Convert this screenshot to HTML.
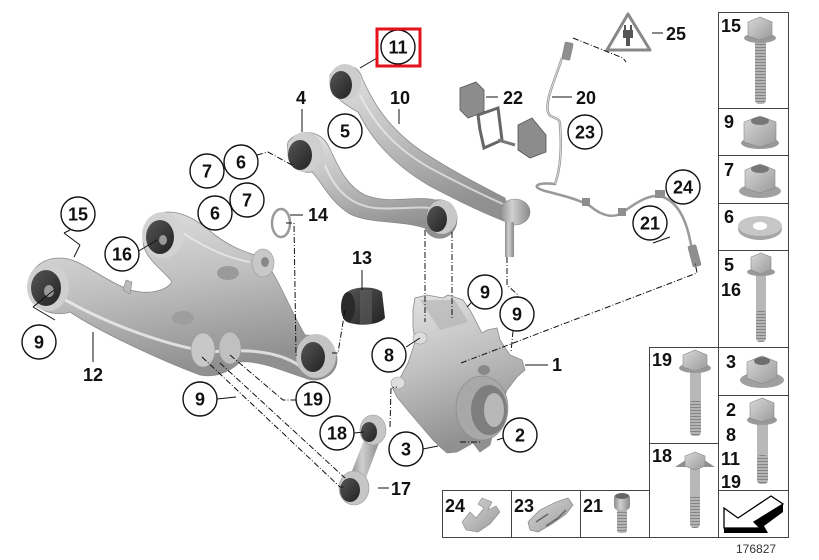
<!DOCTYPE html>
<html><head><meta charset="utf-8"><style>
html,body{margin:0;padding:0;background:#fff;}
svg{display:block;}
text{font-family:"Liberation Sans",Arial,sans-serif;}
</style></head><body>
<svg width="819" height="560" viewBox="0 0 819 560" xmlns="http://www.w3.org/2000/svg">
<defs>
<linearGradient id="g1" x1="0" y1="0" x2="0.3" y2="1">
<stop offset="0" stop-color="#e4e4e4"/><stop offset="0.5" stop-color="#c0c0c0"/><stop offset="1" stop-color="#909090"/></linearGradient>
<linearGradient id="g2" x1="0" y1="0" x2="1" y2="1">
<stop offset="0" stop-color="#d8d8d8"/><stop offset="1" stop-color="#9a9a9a"/></linearGradient>
<linearGradient id="gh" x1="0" y1="0" x2="1" y2="0">
<stop offset="0" stop-color="#8c8c8c"/><stop offset="0.4" stop-color="#d0d0d0"/><stop offset="1" stop-color="#8a8a8a"/></linearGradient>
<linearGradient id="gd" x1="0" y1="0" x2="1" y2="1">
<stop offset="0" stop-color="#555"/><stop offset="1" stop-color="#222"/></linearGradient>
<pattern id="thr" width="12" height="3" patternUnits="userSpaceOnUse">
<rect width="12" height="3" fill="#b4b4b4"/><rect y="2" width="12" height="1" fill="#858585"/></pattern>
</defs>

<!-- ===== Right column boxes ===== -->
<g fill="none" stroke="#444" stroke-width="1">
<rect x="718.5" y="12.5" width="70" height="525"/>
<line x1="718" y1="108.5" x2="788" y2="108.5"/>
<line x1="718" y1="155.5" x2="788" y2="155.5"/>
<line x1="718" y1="203.5" x2="788" y2="203.5"/>
<line x1="718" y1="250.5" x2="788" y2="250.5"/>
<line x1="718" y1="347.5" x2="788" y2="347.5"/>
<line x1="718" y1="395.5" x2="788" y2="395.5"/>
<line x1="718" y1="490.5" x2="788" y2="490.5"/>
<rect x="649.5" y="347.5" width="69" height="190"/>
<line x1="649" y1="443.5" x2="718" y2="443.5"/>
<rect x="442.5" y="490.5" width="207" height="47"/>
<line x1="511.5" y1="490" x2="511.5" y2="538"/>
<line x1="580.5" y1="490" x2="580.5" y2="538"/>
</g>

<g font-weight="bold" font-size="18" fill="#111">
<text x="721" y="32">15</text>
<text x="724" y="128">9</text>
<text x="724" y="176">7</text>
<text x="724" y="223">6</text>
<text x="724" y="271">5</text>
<text x="721" y="296">16</text>
<text x="726" y="368">3</text>
<text x="726" y="416">2</text>
<text x="726" y="441">8</text>
<text x="721" y="465">11</text>
<text x="721" y="488">19</text>
<text x="652" y="366">19</text>
<text x="652" y="462">18</text>
<text x="445" y="512">24</text>
<text x="514" y="512">23</text>
<text x="583" y="512">21</text>
</g>

<!-- bolt 15 -->
<rect x="755" y="38" width="11" height="66" rx="4" fill="url(#thr)"/>
<ellipse cx="760" cy="38" rx="16" ry="5" fill="#9a9a9a"/>
<path d="M748,22 L760,17 L772,22 L772,36 L760,40 L748,36 Z" fill="url(#g2)" stroke="#888" stroke-width="0.6"/>
<!-- nut 9 -->
<ellipse cx="760" cy="143" rx="19" ry="6" fill="#999"/>
<path d="M744,122 L760,116 L776,122 L776,142 L760,147 L744,142 Z" fill="url(#g2)" stroke="#888" stroke-width="0.6"/>
<ellipse cx="760" cy="121" rx="9" ry="4" fill="#777"/>
<!-- nut 7 -->
<ellipse cx="760" cy="191" rx="21" ry="7" fill="#a0a0a0"/>
<path d="M745,170 L760,164 L775,170 L775,188 L760,193 L745,188 Z" fill="url(#g2)" stroke="#888" stroke-width="0.6"/>
<ellipse cx="760" cy="169" rx="9" ry="4" fill="#777"/>
<!-- washer 6 -->
<ellipse cx="760" cy="229" rx="22" ry="11" fill="#a5a5a5"/>
<ellipse cx="760" cy="226" rx="22" ry="10" fill="#c6c6c6"/>
<ellipse cx="760" cy="226" rx="7" ry="4" fill="#fff"/>
<!-- bolt 5/16 -->
<rect x="756" y="272" width="10" height="70" rx="4" fill="#b8b8b8"/>
<rect x="756" y="310" width="10" height="32" rx="4" fill="url(#thr)"/>
<ellipse cx="761" cy="272" rx="14" ry="4" fill="#999"/>
<path d="M751,257 L761,253 L771,257 L771,270 L761,274 L751,270 Z" fill="url(#g2)" stroke="#888" stroke-width="0.6"/>
<!-- nut 3 -->
<ellipse cx="762" cy="380" rx="22" ry="8" fill="#a0a0a0"/>
<path d="M747,362 L762,356 L777,362 L777,378 L762,384 L747,378 Z" fill="url(#g2)" stroke="#888" stroke-width="0.6"/>
<ellipse cx="762" cy="361" rx="8" ry="4" fill="#6e6e6e"/>
<!-- bolt 2/8/11/19 -->
<rect x="757" y="420" width="11" height="64" rx="4" fill="#b8b8b8"/>
<rect x="757" y="455" width="11" height="29" rx="4" fill="url(#thr)"/>
<ellipse cx="762" cy="420" rx="15" ry="5" fill="#999"/>
<path d="M750,403 L762,398 L774,403 L774,418 L762,422 L750,418 Z" fill="url(#g2)" stroke="#888" stroke-width="0.6"/>
<!-- arrow -->
<path d="M724,528 L760,528 L754,522 L783,504 L783,512 L764,526 L768,533 L724,533 Z" fill="#000"/>
<path d="M724,508 L738,518 L771,496 L783,504 L754,522 L760,528 L724,528 Z" fill="#fff" stroke="#000" stroke-width="1.3"/>
<!-- bolt 19 -->
<rect x="690" y="368" width="11" height="68" rx="4" fill="#b8b8b8"/>
<rect x="690" y="400" width="11" height="36" rx="4" fill="url(#thr)"/>
<ellipse cx="695" cy="368" rx="16" ry="5" fill="#999"/>
<path d="M683,355 L695,350 L707,355 L707,367 L695,371 L683,367 Z" fill="url(#g2)" stroke="#888" stroke-width="0.6"/>
<!-- bolt 18 -->
<rect x="690" y="465" width="10" height="63" rx="4" fill="#b8b8b8"/>
<rect x="690" y="495" width="10" height="33" rx="4" fill="url(#thr)"/>
<path d="M675,467 L695,454 L715,467 Z" fill="#8e8e8e"/>
<path d="M685,456 L695,452 L705,456 L705,466 L695,470 L685,466 Z" fill="url(#g2)" stroke="#888" stroke-width="0.6"/>
<!-- screw 21 -->
<rect x="617" y="508" width="10" height="25" rx="3" fill="url(#thr)"/>
<rect x="614" y="494" width="16" height="16" rx="4" fill="url(#gh)"/>
<ellipse cx="622" cy="496" rx="7" ry="3" fill="#666"/>
<!-- clip 24 -->
<path d="M462,522 L470,512 L476,518 L484,508 L478,504 L482,498 L492,502 L488,510 L496,506 L500,512 L490,524 L478,532 L466,530 Z" fill="url(#g2)" stroke="#888" stroke-width="0.6"/>
<!-- clip 23 -->
<path d="M528,522 L540,510 L556,502 L568,498 L573,505 L566,514 L552,524 L538,532 L530,530 Z" fill="url(#g2)" stroke="#777" stroke-width="0.6"/>
<path d="M536,522 L548,514 M546,526 L558,518 M556,520 L566,510" stroke="#666" stroke-width="1.5"/>

<text x="736" y="553" font-size="12" fill="#333">176827</text>

<!-- ===== Lower control arm 12 ===== -->
<path d="M28,292 C26,270 42,258 60,258 C80,258 95,275 125,288 C145,296 165,292 172,282 C165,272 150,262 145,250 C138,232 150,212 168,212 C185,212 200,222 215,235 C235,250 248,252 262,258 C275,270 290,310 305,335 C320,335 337,345 337,360 C337,376 318,384 305,378 C285,372 260,360 240,362 C230,372 215,378 200,375 C160,360 100,332 70,312 C60,316 34,314 28,292 Z" fill="url(#g1)" stroke="#8a8a8a" stroke-width="0.8"/>
<path d="M62,298 C110,326 170,346 210,352 C250,348 280,352 300,366" fill="none" stroke="#f0f0f0" stroke-width="3" opacity="0.8"/>
<path d="M175,228 C200,245 225,258 250,262" fill="none" stroke="#eee" stroke-width="2" opacity="0.7"/>
<ellipse cx="48" cy="287" rx="21" ry="24" fill="#cfcfcf"/>
<ellipse cx="46" cy="288" rx="15" ry="18" fill="url(#gd)"/>
<ellipse cx="49" cy="291" rx="5" ry="6" fill="#999"/>
<ellipse cx="163" cy="235" rx="21" ry="23" fill="#d2d2d2"/>
<ellipse cx="160" cy="237" rx="14" ry="17" fill="url(#gd)"/>
<ellipse cx="163" cy="240" rx="4" ry="5" fill="#999"/>
<ellipse cx="316" cy="356" rx="20" ry="22" fill="#c4c4c4"/>
<ellipse cx="313" cy="357" rx="12" ry="15" fill="url(#gd)"/>
<ellipse cx="263" cy="263" rx="11" ry="14" fill="#c8c8c8" stroke="#999" stroke-width="0.6"/>
<ellipse cx="265" cy="262" rx="4" ry="5" fill="#888"/>
<ellipse cx="228" cy="273" rx="11" ry="7" fill="#9a9a9a"/>
<ellipse cx="183" cy="318" rx="11" ry="7" fill="#9e9e9e"/>
<ellipse cx="203" cy="350" rx="12" ry="17" fill="#c8c8c8" stroke="#999" stroke-width="0.6"/>
<ellipse cx="230" cy="348" rx="11" ry="16" fill="#c0c0c0" stroke="#999" stroke-width="0.6"/>
<path d="M123,290 L126,280 L132,282 L130,294 Z" fill="#bbb" stroke="#888" stroke-width="0.6"/>

<!-- ===== Arm 10/11 ===== -->
<path d="M330,75 C338,62 358,62 362,78 C372,100 385,125 420,150 C450,170 480,185 505,198 L512,224 C490,216 460,202 430,186 C395,166 372,140 358,112 C345,105 328,95 330,75 Z" fill="url(#g1)" stroke="#8a8a8a" stroke-width="0.8"/>
<path d="M360,95 C375,125 395,148 430,168 C460,184 485,196 505,205" fill="none" stroke="#eee" stroke-width="2" opacity="0.7"/>
<ellipse cx="345" cy="82" rx="16" ry="18" fill="#cdcdcd"/>
<ellipse cx="341" cy="85" rx="11" ry="14" fill="url(#gd)"/>
<ellipse cx="515" cy="212" rx="15" ry="13" fill="url(#gh)" stroke="#888" stroke-width="0.6"/>
<rect x="505" y="222" width="9" height="35" fill="url(#gh)"/>

<!-- ===== Arm 4/5 ===== -->
<path d="M288,142 C298,128 320,130 328,145 C338,165 345,185 365,195 C390,205 415,195 435,200 C452,198 460,212 456,226 C450,242 430,242 425,228 C400,220 370,224 350,214 C330,202 322,182 312,172 C300,174 284,166 288,142 Z" fill="url(#g1)" stroke="#8a8a8a" stroke-width="0.8"/>
<path d="M325,165 C335,190 350,205 375,208 C400,210 415,206 430,208" fill="none" stroke="#eee" stroke-width="2" opacity="0.7"/>
<ellipse cx="305" cy="152" rx="18" ry="20" fill="#cfcfcf"/>
<ellipse cx="300" cy="155" rx="12" ry="15" fill="url(#gd)"/>
<ellipse cx="442" cy="217" rx="15" ry="17" fill="#c8c8c8"/>
<ellipse cx="437" cy="219" rx="10" ry="13" fill="url(#gd)"/>

<!-- ring 14 -->
<ellipse cx="281" cy="223" rx="9" ry="14" fill="none" stroke="#9a9a9a" stroke-width="2.5"/>

<!-- bushing 13 -->
<path d="M347,292 C355,286 375,286 382,292 L385,318 C378,326 356,326 347,322 Z" fill="url(#gd)"/>
<rect x="360" y="290" width="12" height="34" fill="#666" opacity="0.5"/>
<ellipse cx="348" cy="307" rx="7" ry="15" fill="#2a2a2a"/>

<!-- ===== Knuckle 1 ===== -->
<path d="M413,310 L415,298 L427,295 L443,298 L448,295 L463,300 L470,310 L482,333 L487,330 L497,328 L500,340 L510,355 L522,360 L525,370 L517,377 L507,390 L497,417 L492,437 L490,445 L480,452 L473,443 L457,452 L447,453 L440,447 L433,440 L410,413 L397,397 L392,387 L400,378 L408,363 L415,342 L413,327 Z" fill="url(#g1)" stroke="#8a8a8a" stroke-width="0.8"/>
<path d="M420,300 L455,300 L468,322 L440,330 Z" fill="#b0b0b0" opacity="0.6"/>
<ellipse cx="482" cy="408" rx="26" ry="32" fill="#a8a8a8" stroke="#888" stroke-width="0.6"/>
<ellipse cx="489" cy="410" rx="18" ry="25" fill="#7e7e7e"/>
<ellipse cx="494" cy="410" rx="10" ry="17" fill="#b8b8b8"/>
<ellipse cx="484" cy="370" rx="6" ry="5" fill="#888"/>
<ellipse cx="398" cy="383" rx="7" ry="6" fill="#ddd" stroke="#999" stroke-width="0.6"/>
<ellipse cx="420" cy="338" rx="7" ry="6" fill="#ddd" stroke="#999" stroke-width="0.6"/>

<!-- link 17/18 -->
<path d="M364,440 L380,440 L366,478 L350,476 Z" fill="url(#gh)"/>
<ellipse cx="373" cy="430" rx="13" ry="15" fill="#c6c6c6" stroke="#999" stroke-width="0.6"/>
<ellipse cx="369" cy="432" rx="8" ry="10" fill="url(#gd)"/>
<ellipse cx="354" cy="488" rx="15" ry="17" fill="#c6c6c6" stroke="#999" stroke-width="0.6"/>
<ellipse cx="350" cy="490" rx="10" ry="12" fill="url(#gd)"/>

<!-- ===== Sensor cable 20 ===== -->
<path d="M562,58 C555,80 545,100 548,112 C550,120 560,115 560,125 C562,150 560,170 555,184 C540,182 528,186 545,191 C565,196 580,200 590,206 C602,216 615,220 626,210 C640,200 650,195 660,196 C675,200 685,215 690,240 L695,262" fill="none" stroke="#999" stroke-width="2.5"/>
<path d="M562,58 C555,80 545,100 548,112 C550,120 560,115 560,125 C562,150 560,170 555,184" fill="none" stroke="#e6e6e6" stroke-width="0.8"/>
<rect x="563" y="42" width="9" height="18" rx="2" fill="#8e8e8e" transform="rotate(12 567 51)"/>
<rect x="690" y="245" width="9" height="22" rx="2" fill="#8e8e8e" transform="rotate(-15 694 256)"/>
<rect x="655" y="190" width="10" height="8" fill="#8e8e8e"/>
<rect x="582" y="198" width="8" height="8" fill="#8e8e8e"/>
<rect x="618" y="208" width="8" height="8" fill="#8e8e8e"/>

<!-- clips 22 -->
<path d="M460,88 L476,82 L484,90 L484,112 L468,118 L460,110 Z" fill="#8c8c8c" stroke="#555" stroke-width="0.8"/>
<path d="M478,115 L498,108 L502,140 L484,148 L480,130 Z" fill="none" stroke="#666" stroke-width="3"/>
<path d="M498,140 L515,145" stroke="#777" stroke-width="3"/>
<path d="M518,125 L532,118 L546,135 L546,152 L530,158 L518,150 Z" fill="#8c8c8c" stroke="#555" stroke-width="0.8"/>

<!-- triangle 25 -->
<path d="M628,14 L607,50 L650,50 Z" fill="#fff" stroke="#888" stroke-width="3" stroke-linejoin="round"/>
<rect x="623" y="30" width="10" height="8" fill="#555"/>
<rect x="626" y="38" width="4" height="8" fill="#555"/>
<rect x="624" y="25" width="2" height="5" fill="#555"/><rect x="630" y="25" width="2" height="5" fill="#555"/>

<!-- ===== Leader lines ===== -->
<g fill="none" stroke="#111" stroke-width="1">
<line x1="377" y1="58" x2="360" y2="68"/>
<line x1="302" y1="109" x2="302" y2="132"/>
<line x1="399" y1="109" x2="399" y2="124"/>
<line x1="486" y1="97" x2="498" y2="97"/>
<line x1="552" y1="97" x2="572" y2="97"/>
<line x1="652" y1="33" x2="663" y2="33"/>
<line x1="290" y1="215" x2="303" y2="215"/>
<line x1="362" y1="270" x2="362" y2="290"/>
<line x1="93" y1="332" x2="93" y2="362"/>
<line x1="137" y1="252" x2="157" y2="240"/>
<line x1="525" y1="365" x2="548" y2="365"/>
<line x1="378" y1="488" x2="389" y2="488"/>
<line x1="354" y1="433" x2="364" y2="432"/>
<line x1="423" y1="449" x2="438" y2="446"/>
<line x1="503" y1="438" x2="497" y2="440"/>
<line x1="406" y1="347" x2="420" y2="338"/>
<line x1="471" y1="303" x2="467" y2="307"/>
<line x1="217" y1="399" x2="236" y2="397"/>
<line x1="54" y1="290" x2="33" y2="307"/>
<line x1="33" y1="307" x2="55" y2="320"/>
<line x1="70" y1="230" x2="64" y2="233"/>
<line x1="64" y1="233" x2="80" y2="245"/>
<line x1="80" y1="245" x2="74" y2="257"/>
<line x1="653" y1="243" x2="670" y2="237"/>
</g>
<g fill="none" stroke="#111" stroke-width="1" stroke-dasharray="6,2,1,2">
<polyline points="286,223 294,223 296,355 299,355"/>
<polyline points="257,155 268,152 292,165"/>
<polyline points="202,357 340,487 345,487"/>
<polyline points="220,363 345,478"/>
<polyline points="230,355 283,400 296,400"/>
<polyline points="345,310 338,353 332,353"/>
<line x1="425" y1="230" x2="425" y2="322"/>
<line x1="452" y1="232" x2="452" y2="320"/>
<polyline points="507,257 507,285 518,295 518,297"/>
<line x1="513" y1="331" x2="511" y2="352"/>
<polyline points="461,363 697,273 695,262"/>
<polyline points="390,427 391,388 397,387"/>
<polyline points="460,442 480,442"/>
<polyline points="573,38 623,58 626,62"/>
</g>

<!-- ===== Circled labels ===== -->
<g fill="#fff" stroke="#111" stroke-width="1.4">
<circle cx="398" cy="47" r="17"/>
<circle cx="345" cy="131" r="17"/>
<circle cx="241" cy="162" r="17"/>
<circle cx="207" cy="171" r="17"/>
<circle cx="247" cy="200" r="17"/>
<circle cx="215" cy="213" r="17"/>
<circle cx="78" cy="214" r="17"/>
<circle cx="122" cy="254" r="17"/>
<circle cx="39" cy="342" r="17"/>
<circle cx="200" cy="399" r="17"/>
<circle cx="313" cy="399" r="17"/>
<circle cx="485" cy="292" r="17"/>
<circle cx="517" cy="314" r="17"/>
<circle cx="389" cy="355" r="17"/>
<circle cx="337" cy="433" r="17"/>
<circle cx="406" cy="449" r="17"/>
<circle cx="520" cy="435" r="17"/>
<circle cx="585" cy="132" r="17"/>
<circle cx="683" cy="187" r="17"/>
<circle cx="650" cy="223" r="17"/>
</g>
<rect x="377" y="29" width="43" height="37" fill="none" stroke="#e3121b" stroke-width="3"/>
<g font-weight="bold" font-size="18" fill="#111" text-anchor="middle">
<text x="398" y="53.5">11</text>
<text x="345" y="137.5">5</text>
<text x="241" y="168.5">6</text>
<text x="207" y="177.5">7</text>
<text x="247" y="206.5">7</text>
<text x="215" y="219.5">6</text>
<text x="78" y="220.5">15</text>
<text x="122" y="260.5">16</text>
<text x="39" y="348.5">9</text>
<text x="200" y="405.5">9</text>
<text x="313" y="405.5">19</text>
<text x="485" y="298.5">9</text>
<text x="517" y="320.5">9</text>
<text x="389" y="361.5">8</text>
<text x="337" y="439.5">18</text>
<text x="406" y="455.5">3</text>
<text x="520" y="441.5">2</text>
<text x="585" y="138.5">23</text>
<text x="683" y="193.5">24</text>
<text x="650" y="229.5">21</text>
<text x="301" y="104">4</text>
<text x="400" y="104">10</text>
<text x="513" y="104">22</text>
<text x="586" y="104">20</text>
<text x="676" y="40">25</text>
<text x="318" y="221">14</text>
<text x="362" y="264">13</text>
<text x="93" y="381">12</text>
<text x="557" y="371">1</text>
<text x="401" y="495">17</text>
</g>
</svg>
</body></html>
